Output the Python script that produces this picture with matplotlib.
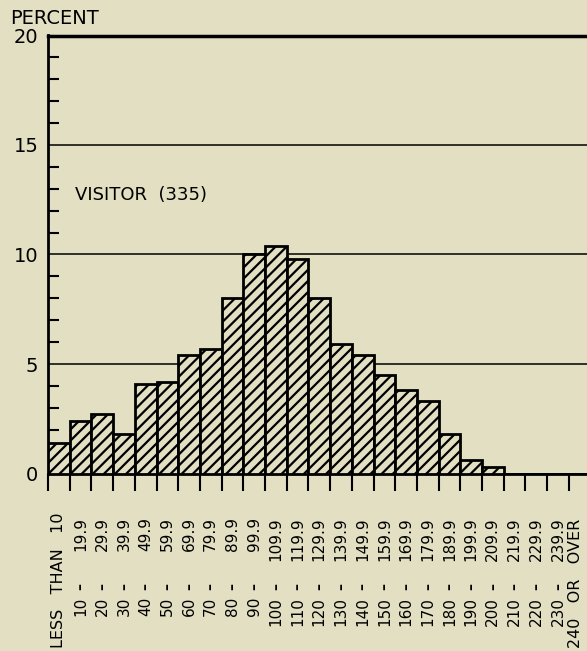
import matplotlib
matplotlib.use("Agg")
from matplotlib import pyplot as plt
from matplotlib import transforms

# percent of visitors by class
bins = ["LESS THAN 10", "10 - 19.9", "20 - 29.9", "30 - 39.9", "40 - 49.9",
        "50 - 59.9", "60 - 69.9", "70 - 79.9", "80 - 89.9", "90 - 99.9",
        "100 - 109.9", "110 - 119.9", "120 - 129.9", "130 - 139.9",
        "140 - 149.9", "150 - 159.9", "160 - 169.9", "170 - 179.9",
        "180 - 189.9", "190 - 199.9", "200 - 209.9", "210 - 219.9",
        "220 - 229.9", "230 - 239.9", "240 OR OVER"]
visitor = [1.4, 2.4, 2.7, 1.8, 4.1, 4.2, 5.4, 5.7, 8.0, 10.0, 10.4, 9.8, 8.0,
           5.9, 5.4, 4.5, 3.8, 3.3, 1.8, 0.6, 0.3, 0, 0, 0, 0]
yticks = [0, 5, 10, 15, 20]
ytick_labels = ["0", "5", "10", "15", "20"]

bg = "#e2dfc2"
plt.rcParams["hatch.linewidth"] = 1.6
plt.rcParams["font.family"] = ["DejaVu Sans"]

fig = plt.figure(figsize=(5.87, 6.51), dpi=100, facecolor=bg)
ax = fig.add_axes([48 / 587, 177.5 / 651, 542.5 / 587, 438 / 651], facecolor=bg)

ax.bar(range(len(bins)), visitor, width=1, align="edge", color=bg,
       edgecolor="black", linewidth=2, hatch="///", zorder=3)

ax.set_xlim(0, len(bins))
ax.set_ylim(0, 20)
ax.set_yticks(yticks)
ax.set_yticklabels(ytick_labels, fontsize=14)
ax.set_yticks(range(0, 21), minor=True)
ax.tick_params(axis="y", which="major", length=0, pad=7)
ax.tick_params(axis="y", which="minor", direction="in", length=8, width=1.5)
ax.set_xticks(range(len(bins) + 1))
ax.set_xticklabels([])
ax.tick_params(axis="x", direction="out", length=12, width=1.5)
ax.grid(axis="y", color="black", linewidth=1.1)
ax.set_axisbelow(True)

ax.spines["right"].set_visible(False)
ax.spines["top"].set_linewidth(2.5)
ax.spines["left"].set_linewidth(2)
ax.spines["bottom"].set_linewidth(2)

# rotated class labels under the axis
tr = transforms.blended_transform_factory(ax.transData, ax.transAxes)
for i, lab in enumerate(bins):
    xc = i + 0.5
    if " - " in lab:
        lo, hi = lab.split(" - ")
        ax.text(xc, -0.0993, hi, rotation=90, ha="center", va="top",
                fontsize=11, transform=tr)
        ax.text(xc, -0.259, "\u2013", rotation=90, ha="center", va="center",
                fontsize=10, fontweight="bold", transform=tr)
        ax.text(xc, -0.282, lo, rotation=90, ha="center", va="top",
                fontsize=11, transform=tr)
    else:
        if i == len(bins) - 1:
            xc = i + 0.3  # last column sits at the page edge
        ax.text(xc, -0.398, lab.replace(" ", "   "), rotation=90, ha="center",
                va="bottom", fontsize=11.5, transform=tr)

ax.text(27 / 542.5, 0.635, "VISITOR  (335)", fontsize=13, ha="left",
        va="center", transform=ax.transAxes)
fig.text(10 / 587, 1 - 18 / 651, "PERCENT", fontsize=14, ha="left", va="center")

fig.savefig("out.png", dpi=100, facecolor=bg)
